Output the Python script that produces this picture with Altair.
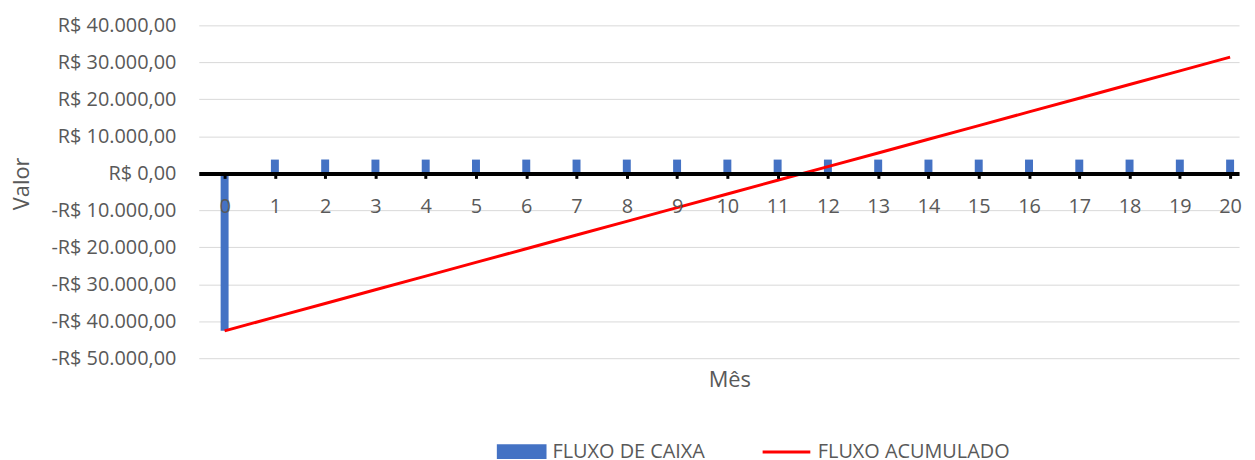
import altair as alt
import pandas as pd

meses = list(range(21))
fluxo_caixa = [-42600, 3700, 3700, 3700, 3700, 3700, 3700, 3700, 3700, 3700, 3700,
               3700, 3700, 3700, 3700, 3700, 3700, 3700, 3700, 3700, 3700]
fluxo_acumulado = [-42600, -38900, -35200, -31500, -27800, -24100, -20400, -16700,
                   -13000, -9300, -5600, -1900, 1800, 5500, 9200, 12900, 16600,
                   20300, 24000, 27700, 31400]
y_ticks = [-50000, -40000, -30000, -20000, -10000, 0, 10000, 20000, 30000, 40000]

FONT = "Open Sans"
GREY = "#595959"

df = pd.DataFrame({
    "mes": meses,
    "caixa": fluxo_caixa,
    "acumulado": fluxo_acumulado,
    "serie_b": ["FLUXO DE CAIXA"] * len(meses),
    "serie_l": ["FLUXO ACUMULADO"] * len(meses),
})

x = alt.X(
    "mes:Q",
    scale=alt.Scale(domain=[-0.514, 20.178], nice=False, zero=False, padding=0),
    axis=alt.Axis(
        values=meses, tickCount=50, format="d", title="Mês", offset=-186, zindex=1,
        domainColor="black", domainWidth=4,
        tickColor="black", tickWidth=3, tickSize=5,
        labelPadding=18, labelFontSize=20, labelFont=FONT, labelColor=GREY,
        labelFlush=False, labelOverlap=False, grid=False,
        titleFontSize=22, titleFont=FONT, titleColor=GREY, titleFontWeight="normal",
        titleY=197, titleX=534,
    ),
)

label_expr = ("(datum.value < 0 ? '-' : '') + 'R$ ' + (datum.value == 0 ? '0,00' : "
              "format(abs(datum.value) / 1000, 'd') + '.000,00')")

y_scale = alt.Scale(domain=[-50000, 40000], nice=False, padding=0)

bars = alt.Chart(df).mark_bar(size=8).encode(
    x=x,
    y=alt.Y(
        "caixa:Q", scale=y_scale,
        axis=alt.Axis(
            values=y_ticks, tickCount=30, labelExpr=label_expr, grid=True,
            labelOverlap=False,
            gridColor="#D9D9D9", gridWidth=1, domain=False, ticks=False,
            labelPadding=23, labelFontSize=20, labelFont=FONT, labelColor=GREY,
            title="Valor", titleFontSize=22, titleFont=FONT, titleColor=GREY,
            titleFontWeight="normal", titleX=-166, titleY=159,
        ),
    ),
    fill=alt.Fill(
        "serie_b:N",
        scale=alt.Scale(domain=["FLUXO DE CAIXA"], range=["#4472C4"]),
        legend=alt.Legend(
            title=None, orient="none", legendX=300, legendY=404,
            symbolType="M-1,-0.3H1V0.3H-1Z", symbolSize=2500, symbolStrokeWidth=0,
            labelFontSize=20, labelFont=FONT, labelColor=GREY, labelOffset=6,
            labelLimit=0,
        ),
    ),
)

line = alt.Chart(df).mark_line(strokeWidth=3).encode(
    x=x,
    y=alt.Y("acumulado:Q", scale=y_scale),
    stroke=alt.Stroke(
        "serie_l:N",
        scale=alt.Scale(domain=["FLUXO ACUMULADO"], range=["#FF0000"]),
        legend=alt.Legend(
            title=None, orient="none", legendX=566, legendY=404,
            symbolType="M-1,0H1", symbolSize=2304, symbolStrokeWidth=3,
            labelFontSize=20, labelFont=FONT, labelColor=GREY, labelOffset=6,
            labelLimit=0,
        ),
    ),
)

chart = alt.layer(bars, line).properties(
    width=1047, height=335,
    autosize=alt.AutoSizeParams(type="none"),
    padding={"left": 192, "top": 16, "right": 8, "bottom": 101},
).configure_view(stroke=None)

chart.save("out.html", embed_options={"renderer": "svg", "actions": False})
